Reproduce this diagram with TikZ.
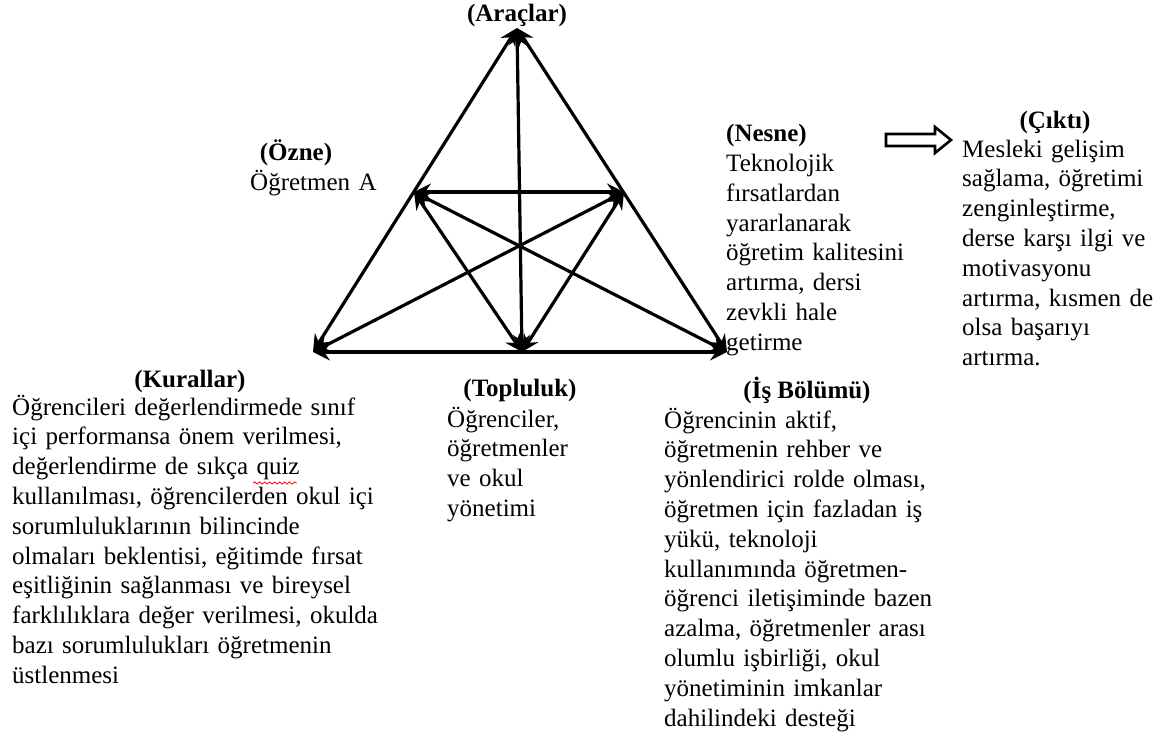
\documentclass[tikz,border=0pt]{standalone}
\usepackage{fontspec}
\setmainfont{Liberation Serif}
\usetikzlibrary{arrows.meta,decorations.pathmorphing}
\newcommand{\txtblk}{\fontsize{25}{29.8}\selectfont\lineskiplimit=-20pt\relax}
\tikzset{
  link/.style={line width=3.2pt, {Stealth[length=17pt,width=17pt,inset=6pt]}-{Stealth[length=17pt,width=17pt,inset=6pt]}},
  head/.style={font=\txtblk\bfseries, inner sep=0pt, anchor=base},
  body/.style={font=\txtblk, inner sep=0pt, anchor=base west, text width=420pt, align=left},
}
\begin{document}
\begin{tikzpicture}[x=1pt,y=-1pt]
\useasboundingbox (0,0) rectangle (1160,742);
% texts
\node[head] (aralar) at (517,21) {(Araçlar)};
\node[head] (ozneh) at (296,160) {(Özne)};
\node[body, text width=200pt] (ozne) at (250,190) {Öğretmen A};
\node[body, text width=200pt] (nesne) at (726,141.7) {\textbf{(Nesne)}\\Teknolojik\\fırsatlardan\\yararlanarak\\öğretim kalitesini\\artırma, dersi\\zevkli hale\\getirme};
\node[head] (ciktih) at (1055,128) {(Çıktı)};
\node[body, text width=200pt] (cikti) at (962,157) {Mesleki gelişim\\sağlama, öğretimi\\zenginleştirme,\\derse karşı ilgi ve\\motivasyonu\\artırma, kısmen de\\olsa başarıyı\\artırma.};
\node[head] (kurallarh) at (190,387) {(Kurallar)};
\node[body] (kurallar) at (12,415) {Öğrencileri değerlendirmede sınıf\\içi performansa önem verilmesi,\\değerlendirme de sıkça quiz\\kullanılması, öğrencilerden okul içi\\sorumluluklarının bilincinde\\olmaları beklentisi, eğitimde fırsat\\eşitliğinin sağlanması ve bireysel\\farklılıklara değer verilmesi, okulda\\bazı sorumlulukları öğretmenin\\üstlenmesi};
\node[head] (toplulukh) at (520,396) {(Topluluk)};
\node[body, text width=200pt] (topluluk) at (447,427) {Öğrenciler,\\öğretmenler\\ve okul\\yönetimi};
\node[head] (isbolh) at (807,398) {(İş Bölümü)};
\node[body, text width=300pt] (isbol) at (664,428) {Öğrencinin aktif,\\öğretmenin rehber ve\\yönlendirici rolde olması,\\öğretmen için fazladan iş\\yükü, teknoloji\\kullanımında öğretmen-\\öğrenci iletişiminde bazen\\azalma, öğretmenler arası\\olumlu işbirliği, okul\\yönetiminin imkanlar\\dahilindeki desteği};
% spell-check underline
\draw[red, line width=0.8pt, decorate, decoration={snake, amplitude=1.1pt, segment length=5pt}] (253,483) -- (297,483);
% triangle points
\coordinate (T) at (517,28);
\coordinate (BL) at (313,352);
\coordinate (BR) at (727,352);
\coordinate (BM) at (522,352);
\coordinate (LM) at (414,192);
\coordinate (RM) at (624,192);
% connectors
\draw[link] (T) -- (BL);
\draw[link] (T) -- (BR);
\draw[link] (BL) -- (BR);
\draw[link] (T) -- (BM);
\draw[link] (LM) -- (RM);
\draw[link] (LM) -- (BM);
\draw[link] (RM) -- (BM);
\draw[link] (LM) -- (BR);
\draw[link] (RM) -- (BL);
% output arrow
\draw[line width=2.6pt, line join=miter] (886,134) -- (935,134) -- (935,127) -- (951,140) -- (935,153) -- (935,146) -- (886,146) -- cycle;
\end{tikzpicture}
\end{document}
